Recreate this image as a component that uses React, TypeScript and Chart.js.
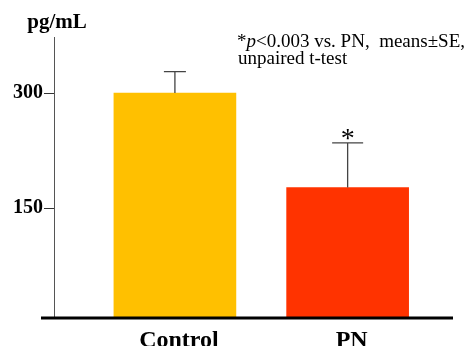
import React, { useEffect, useRef } from 'react';
import { Chart, registerables } from 'chart.js';

Chart.register(...registerables);

const categories = ['Control', 'PN'];
const means = [300, 177];
const errors = [28, 58];
const significance = ['', '*'];
const yTicks = [150, 300];
const yLabel = 'pg/mL';
const noteLine1Parts = [
  { text: '*', italic: false },
  { text: 'p', italic: true },
  { text: '<0.003 vs. PN,  means\u00B1SE,', italic: false },
];
const noteLine2 = 'unpaired t-test';

const barColors = ['#FFC000', '#FF3300'];
const capWidths = [22, 31];
const SERIF = '"Liberation Serif", "Times New Roman", serif';

const annotations = {
  id: 'annotations',
  afterDatasetsDraw(chart: any) {
    const ctx = chart.ctx;
    const ys = chart.scales.y;
    const area = chart.chartArea;
    const meta = chart.getDatasetMeta(0);
    ctx.save();
    means.forEach((m, i) => {
      const bar = meta.data[i];
      const x = bar.x;
      const yTop = ys.getPixelForValue(m);
      const yErr = ys.getPixelForValue(m + errors[i]);
      ctx.strokeStyle = '#444';
      ctx.lineWidth = 1.3;
      ctx.beginPath();
      ctx.moveTo(x, yTop);
      ctx.lineTo(x, yErr);
      ctx.moveTo(x - capWidths[i] / 2, yErr);
      ctx.lineTo(x + capWidths[i] / 2, yErr);
      ctx.stroke();
      if (significance[i]) {
        ctx.fillStyle = '#000';
        ctx.font = `28px ${SERIF}`;
        ctx.textAlign = 'center';
        ctx.textBaseline = 'alphabetic';
        ctx.fillText(significance[i], x, yErr + 4);
      }
      ctx.fillStyle = '#000';
      ctx.font = `bold 24px ${SERIF}`;
      ctx.textAlign = 'center';
      ctx.textBaseline = 'alphabetic';
      ctx.fillText(categories[i], x + 4, area.bottom + 29);
    });
    const yBase = ys.getPixelForValue(ys.min);
    ctx.strokeStyle = '#000';
    ctx.lineWidth = 3;
    ctx.beginPath();
    ctx.moveTo(area.left - 13, yBase);
    ctx.lineTo(area.right, yBase);
    ctx.stroke();
    ctx.fillStyle = '#000';
    ctx.font = `bold 21px ${SERIF}`;
    ctx.textAlign = 'center';
    ctx.textBaseline = 'alphabetic';
    ctx.fillText(yLabel, area.left + 3, area.top - 9);
    ctx.textAlign = 'left';
    let nx = area.left + 183;
    const ny1 = area.top + 10;
    noteLine1Parts.forEach((p) => {
      ctx.font = `${p.italic ? 'italic ' : ''}19px ${SERIF}`;
      ctx.fillText(p.text, nx, ny1);
      nx += ctx.measureText(p.text).width;
    });
    ctx.font = `19px ${SERIF}`;
    ctx.fillText(noteLine2, area.left + 184, ny1 + 17);
    ctx.restore();
  },
};

export default function App() {
  const ref = useRef<HTMLCanvasElement | null>(null);
  useEffect(() => {
    document.body.style.margin = '0';
    if (!ref.current) return;
    const chart = new Chart(ref.current, {
      type: 'bar',
      data: {
        datasets: [
          {
            data: means.map((m, i) => ({ x: i + 1, y: m })),
            backgroundColor: barColors,
            barThickness: 122,
            borderWidth: 0,
          },
        ],
      },
      options: {
        responsive: false,
        animation: false,
        layout: { padding: { top: 37, right: 22, bottom: 28, left: 0 } },
        plugins: { legend: { display: false }, tooltip: { enabled: false } },
        scales: {
          x: { type: 'linear', display: false, offset: false, min: 0.3, max: 2.61 },
          y: {
            min: 7,
            max: 373,
            afterBuildTicks: (s: any) => {
              s.ticks = yTicks.map((v) => ({ value: v }));
            },
            afterFit: (s: any) => {
              s.width = 54;
            },
            grid: { drawOnChartArea: false, tickLength: 10, tickColor: '#333', tickWidth: 1 },
            border: { color: '#555', width: 1 },
            ticks: {
              padding: 1,
              color: '#000',
              font: { family: SERIF, size: 20, weight: 'bold' },
            },
          },
        },
      },
      plugins: [annotations],
    } as any);
    return () => chart.destroy();
  }, []);
  return (
    <div style={{ width: 475, height: 346 }}>
      <canvas ref={ref} width={475} height={346} />
    </div>
  );
}
